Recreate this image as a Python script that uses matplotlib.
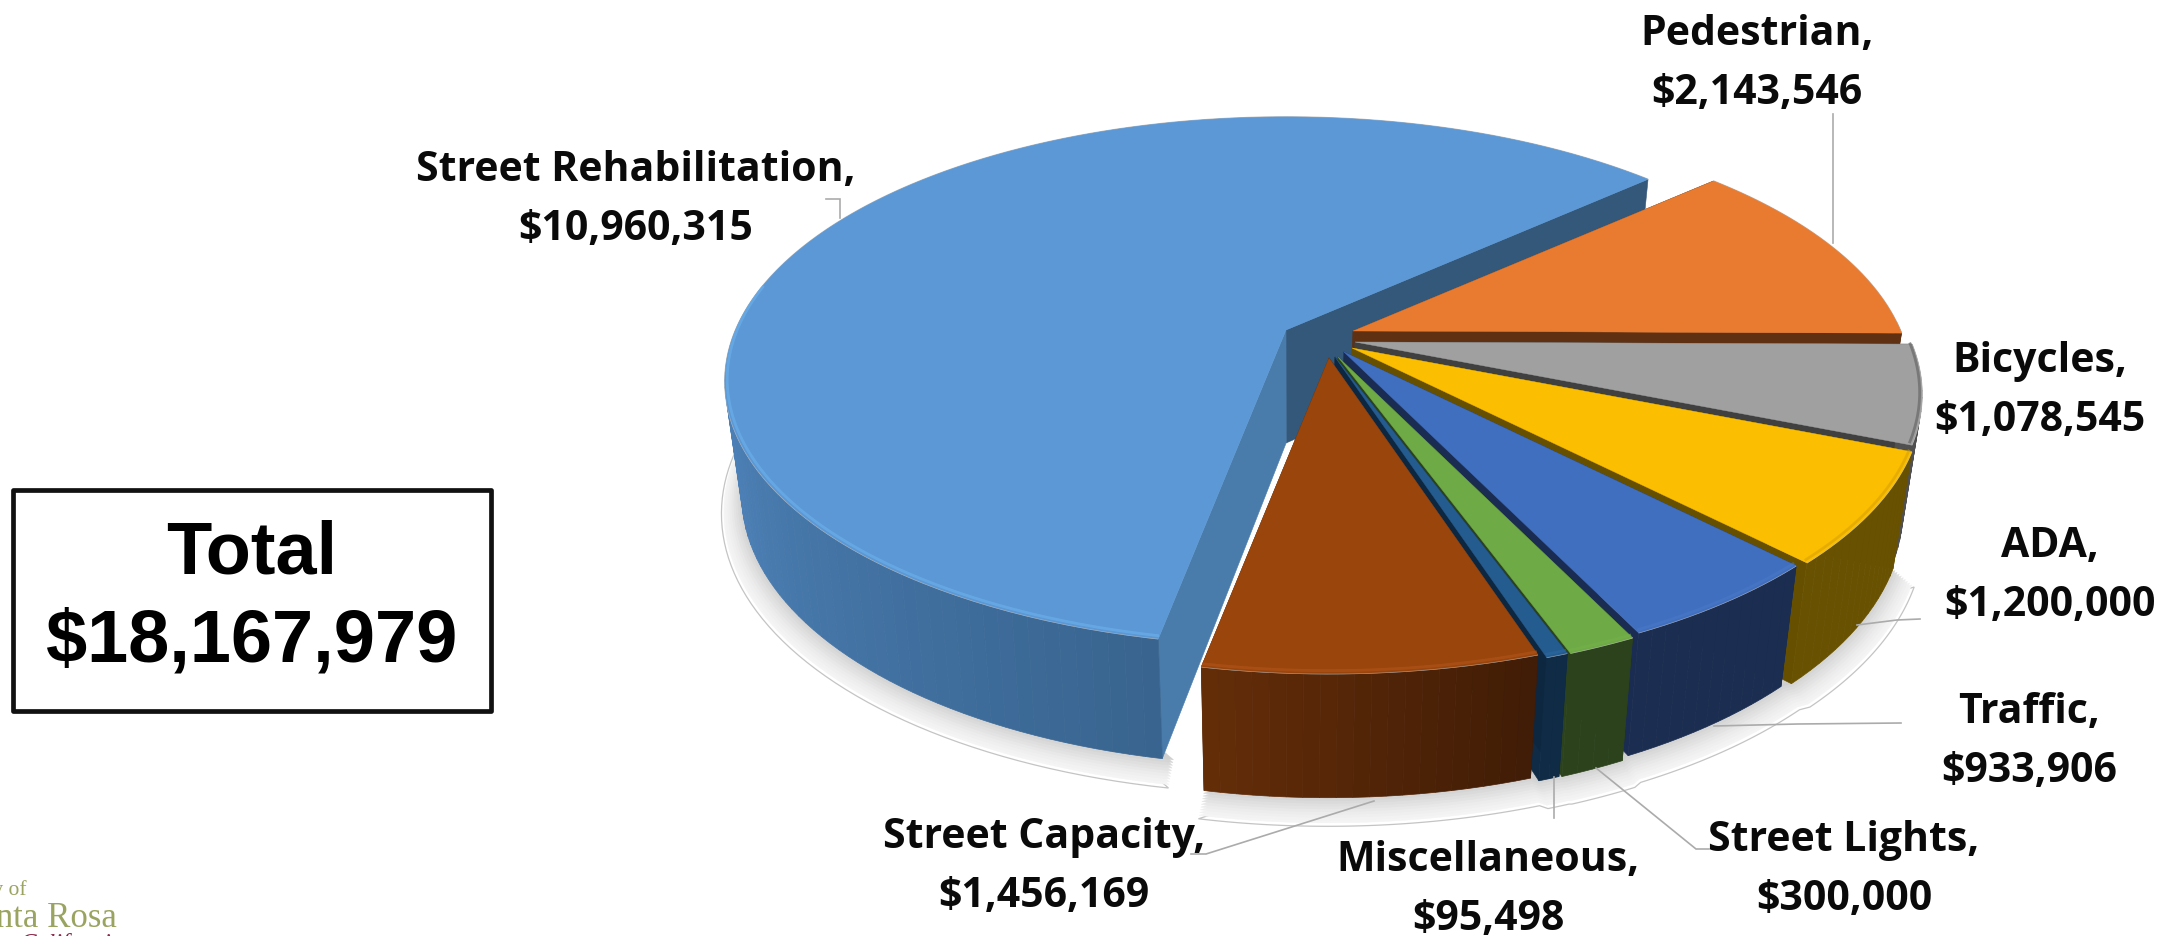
import numpy as np
import matplotlib
matplotlib.use("Agg")
import matplotlib.pyplot as plt
from matplotlib.patches import Polygon, Rectangle

# ---- data (counter-clockwise order starting from the Street Rehabilitation slice)
categories = ["Street Rehabilitation", "Street Capacity", "Miscellaneous", "Street Lights",
              "Traffic", "ADA", "Bicycles", "Pedestrian"]
values = [10960315, 1456169, 95498, 300000, 933906, 1200000, 1078545, 2143546]
total_label = "Total"

# ---- style
top_colors = ["#5B98D5", "#9A450C", "#255C8F", "#6EAA45", "#416FBF", "#FBBE00", "#A0A0A0", "#E97B30"]
wall_start = ["#568DC8", "#642D08", "#0F2B45", "#2C421D", "#1B2D50", "#685100", "#505050", "#5F3012"]
wall_end = ["#38648F", "#401C06", "#0F2B45", "#2C421D", "#1B2D50", "#685100", "#505050", "#5F3012"]
cut_start = ["#4A7CAB", "#0D2740", "#0D2740", "#2C421D", "#1A2C52", "#665000", "#404040", "#5F3012"]
cut_end = ["#34587A", "#5A2A08", "#0F2B45", "#2C421D", "#1A2C52", "#665000", "#404040", "#5F3012"]
bevel = ["#69ADE9", "#B5571B", "#2A6BA4", "#76B34C", "#4A7ACC", "#D9A200", "#6E6E6E", None]
bevel_alpha = [0.75, 0.55, 0.5, 0.5, 0.5, 0.6, 0.8, 0]
# slice displacement from the pie origin, in pixels (explosion), and radius scale
slice_dx = [1286, 1329, 1335, 1338, 1344, 1352, 1355, 1353]
slice_dy = [330, 358, 357, 357, 352, 348, 342, 331]
slice_r = [0.99, 0.99, 1.0, 1.0, 1.0, 1.005, 1.0, 0.985]
slice_hk = [7.0, 11.0, 11.0, 11.0, 11.0, 11.0, 11.0, 11.0]
draw_order = [0, 7, 6, 5, 4, 3, 2, 1]
start_angle = 42.0
A, B, K = 556.0, 257.0, 0.196  # pie radii and perspective strength
H = 113.0                      # wall height
CX, SHRINK = 1290.0, 0.97      # bottom ring convergence

label_font = ["Open Sans", "DejaVu Sans"]
label_size = 29.5
label_pos = {
    "Pedestrian": (1757, 64), "Street Rehabilitation": (636, 200), "Bicycles": (2040, 391),
    "ADA": (2050, 576), "Traffic": (2029, 742), "Street Lights": (1844, 870),
    "Miscellaneous": (1488, 890), "Street Capacity": (1044, 867),
}
leaders = [
    [(1833, 114), (1833, 243)],
    [(826, 199), (840, 199), (840, 218)],
    [(1191, 854), (1206, 854), (1374, 801)],
    [(1554, 777), (1554, 818)],
    [(1596, 768), (1696, 849), (1709, 849)],
    [(1714, 726), (1798, 724), (1901, 723)],
    [(1857, 625), (1897, 620), (1920, 619)],
]

fig = plt.figure(figsize=(21.79, 9.36), dpi=100, facecolor="white")
ax = fig.add_axes([0, 0, 1, 1])
ax.set_xlim(0, 2179)
ax.set_ylim(936, 0)
ax.axis("off")

vals = np.array(values, dtype=float)
sweep = vals / vals.sum() * 360
t0 = start_angle + np.concatenate([[0], np.cumsum(sweep)[:-1]])
t1 = t0 + sweep


def top(th, i, r=1.0):
    r = r * slice_r[i]
    x, y = r * np.cos(np.radians(th)), r * np.sin(np.radians(th))
    w = 1 + K * y
    return slice_dx[i] + A * x / w, slice_dy[i] - B * y / w


def bottom(th, i, r=1.0):
    px, py = top(th, i, r)
    y = r * np.sin(np.radians(th))
    return CX + (px - CX) * SHRINK, py + H - slice_hk[i] * y


def mix(c1, c2, f):
    a = np.array(matplotlib.colors.to_rgb(c1))
    b = np.array(matplotlib.colors.to_rgb(c2))
    return a + (b - a) * f


def shadow(segments, z):
    layers = [(1.036, 14, "#FFFFFF")] + [
        (1.036 - 0.036 * f, 14 * (1 - f), mix("#F6F6F6", "#CFCFCF", f ** 1.5)) for f in np.linspace(0.12, 1, 10)]
    for n, (s, dy, col) in enumerate(layers):
        pts = []
        for i, a0, a1 in segments:
            th = np.linspace(a0, a1, 60)
            xs, ys = bottom(th, i, s)
            pts.append(np.column_stack([xs, ys + dy]))
        pts = np.vstack(pts)
        ax.add_patch(Polygon(pts, closed=True, facecolor=col,
                             edgecolor="#C4C4C4" if n == 0 else col,
                             lw=0.9 if n == 0 else 0.3, zorder=z))


# soft shadow under the pie
shadow([(0, 172, t1[0] + 1)], 1)
shadow([(i, t0[i], t1[i]) for i in range(1, 6)], 1)

# slices, back to front
z = 10
for i in draw_order:
    a0, a1 = t0[i], t1[i]
    apex = (slice_dx[i], slice_dy[i])
    apex_b = (CX + (apex[0] - CX) * SHRINK, apex[1] + H)
    # the two cut faces
    for ang, col in ((a0, cut_end[i]), (a1, cut_start[i])):
        ax.add_patch(Polygon([apex, top(ang, i), bottom(ang, i), apex_b], closed=True,
                             facecolor=col, edgecolor=col, lw=0.4, zorder=z))
    z += 1
    # outer wall, only the part that faces the viewer
    lo, hi = max(a0, 170), min(a1, 362)
    if hi > lo:
        edges = np.linspace(lo, hi, max(2, int((hi - lo) / 1.5) + 2))
        for e0, e1 in zip(edges[:-1], edges[1:]):
            f = (0.5 * (e0 + e1) - lo) / (hi - lo)
            col = mix(wall_start[i], wall_end[i], f)
            th = np.linspace(e0, e1, 4)
            tx, ty = top(th, i)
            bx, by = bottom(th, i)
            poly = np.vstack([np.column_stack([tx, ty]), np.column_stack([bx, by])[::-1]])
            ax.add_patch(Polygon(poly, closed=True, facecolor=col, edgecolor=col, lw=0.5, zorder=z))
    z += 1
    # top face
    th = np.linspace(a0, a1, 240)
    rx, ry = top(th, i)
    ax.plot(rx, ry, color="#BDBDBD", lw=1.0, zorder=z, solid_capstyle="butt")
    ax.add_patch(Polygon(np.vstack([[apex], np.column_stack([rx, ry])]), closed=True,
                         facecolor=top_colors[i], edgecolor=top_colors[i], lw=0.3, zorder=z + 1))
    z += 2
    # bevel along the front rim
    if bevel[i] and hi > lo:
        th = np.linspace(lo, hi, 120)
        bx, by = top(th, i, 0.996)
        ax.plot(bx, by - 1.5, color=bevel[i], lw=2.0, alpha=bevel_alpha[i], zorder=z, solid_capstyle="butt")
    z += 1

# leader lines
for seg in leaders:
    xs, ys = zip(*seg)
    ax.plot(xs, ys, color="#ABABAB", lw=1.2, zorder=z + 1, solid_joinstyle="miter")

# data labels
for cat, v in zip(categories, values):
    x, y = label_pos[cat]
    ax.text(x, y, f"{cat},\n${v:,}", ha="center", va="center", multialignment="center",
            family=label_font, fontweight="bold", fontsize=label_size, color="#0A0A0A",
            linespacing=1.58, zorder=z + 2)

# total box
ax.add_patch(Rectangle((13, 490), 478, 221, facecolor="white", edgecolor="#111111", lw=3.4,
                       joinstyle="round", zorder=z + 1))
ax.text(252, 598, f"{total_label}\n${sum(values):,}", ha="center", va="center", multialignment="center",
        family="Liberation Sans", fontweight="bold", fontsize=53.3, color="black",
        linespacing=1.34, zorder=z + 2)

# cropped logo
ax.text(27, 895, "City of", ha="right", va="baseline", family="Liberation Serif", fontsize=15.5,
        color="#9AA35F", zorder=z + 2)
ax.text(117, 927, "Santa Rosa", ha="right", va="baseline", family="Liberation Serif", fontsize=25,
        color="#9AA35F", zorder=z + 2)
ax.text(72, 951, "California", ha="center", va="baseline", family="Liberation Serif", style="italic",
        fontsize=18, color="#8C2A4E", zorder=z + 2)

fig.savefig("out.png", dpi=100, facecolor="white")
